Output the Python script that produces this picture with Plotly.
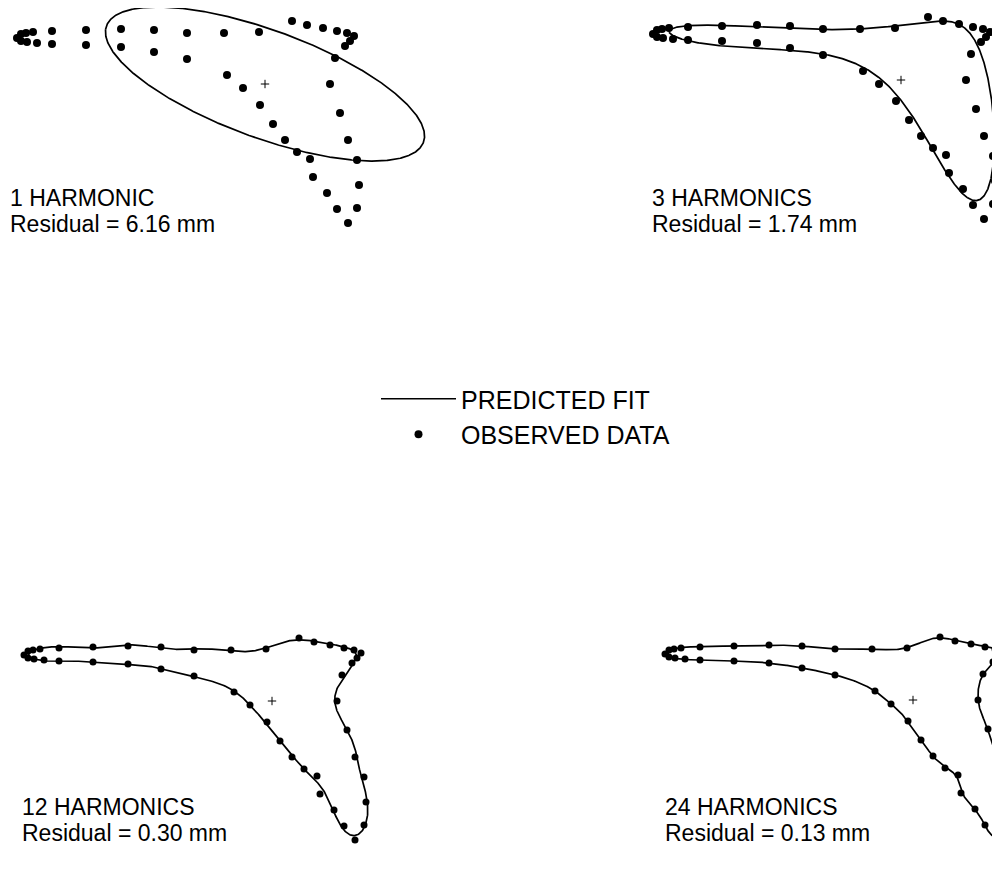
import numpy as np
import plotly.graph_objects as go

# Observed contour points (relative to the shape centroid "+", y up; 1 unit = 1 px at figure scale)
OBS_X = [-248, -244, -239, -232, -213, -179, -144, -111, -78, -41, -6, 27, 42, 58, 72, 82, 89,
         85, 80, 70, 65, 75, 83, 92, 94, 92, 83, 72, 62, 48, 45, 32, 20, 8, -5, -22, -38,
         -78, -111, -144, -179, -213, -228, -238, -244]
OBS_Y = [46, 50, 51, 52, 53, 54, 55, 54, 51, 51, 52, 63, 59, 56, 53, 51, 48,
         43, 38, 26, 0, -29, -56, -76, -101, -124, -139, -125, -109, -93, -75, -68, -56, -40, -21, -4, 9,
         25, 32, 37, 39, 40, 41, 42, 43]
CENTROID_X = [0]
CENTROID_Y = [0]

HARMONICS = [1, 3, 12, 24]
PANEL_TITLES = ["1 HARMONIC", "3 HARMONICS", "12 HARMONICS", "24 HARMONICS"]
RESIDUALS_MM = ["6.16", "1.74", "0.30", "0.13"]

FONT = "Liberation Sans, Arial, Helvetica, sans-serif"
W, H = 1000, 880


def fourier_fit(x, y, n, x0, y0, fix_center, lam, m=1200):
    """Least-squares elliptic Fourier fit with n harmonics (chord-length parameter)."""
    x = np.asarray(x, float) - x0
    y = np.asarray(y, float) - y0
    xc = np.append(x, x[0])
    yc = np.append(y, y[0])
    seg = np.hypot(np.diff(xc), np.diff(yc))
    s = np.concatenate([[0.0], np.cumsum(seg)[:-1]])
    t = 2 * np.pi * s / seg.sum()

    def design(tt):
        cols = [] if fix_center else [np.ones_like(tt)]
        for k in range(1, n + 1):
            cols += [np.cos(k * tt), np.sin(k * tt)]
        return np.column_stack(cols)

    A = design(t)
    pen = ([] if fix_center else [0.0]) + [float(k) ** 4 for k in range(1, n + 1) for _ in range(2)]
    M = A.T @ A + lam * np.diag(pen)
    cx = np.linalg.solve(M, A.T @ x)
    cy = np.linalg.solve(M, A.T @ y)
    tt = np.linspace(0, 2 * np.pi, m)
    B = design(tt)
    fx = B @ cx + x0
    fy = B @ cy + y0
    return np.append(fx, fx[0]), np.append(fy, fy[0])


# panel boxes in pixels (x0, x1, y0, y1) and centroid pixel positions
PANEL_BOX = [(0, 500, 0, 300), (500, 1000, 0, 300), (0, 500, 580, 880), (500, 1000, 580, 880)]
PANEL_CENTER = [(257, 76), (893, 72), (264, 693), (905, 692)]
LABEL_POS = [(1, 190, 216), (643, 190, 216), (13, 799, 825), (656, 799, 825)]
MARKER_SIZE = [8, 8, 7, 7]
FIX_CENTER = [True, False, False, False]
SMOOTH = [0.0, 1e-7, 1e-7, 1.5e-4]

fig = go.Figure()
layout = {}
annotations = []
for i, n in enumerate(HARMONICS):
    ax = "" if i == 0 else str(i + 1)
    xa, ya = "x" + ax, "y" + ax
    fx, fy = fourier_fit(OBS_X, OBS_Y, n, CENTROID_X[0], CENTROID_Y[0], FIX_CENTER[i], SMOOTH[i])
    fig.add_trace(go.Scatter(x=fx, y=fy, mode="lines", line=dict(color="black", width=1.7),
                             name="PREDICTED FIT", showlegend=(i == 0), xaxis=xa, yaxis=ya,
                             hoverinfo="skip"))
    fig.add_trace(go.Scatter(x=OBS_X, y=OBS_Y, mode="markers",
                             marker=dict(color="black", size=MARKER_SIZE[i]),
                             name="OBSERVED DATA", showlegend=(i == 0), xaxis=xa, yaxis=ya,
                             cliponaxis=False))
    fig.add_trace(go.Scatter(x=CENTROID_X, y=CENTROID_Y, mode="markers",
                             marker=dict(color="black", size=6, symbol="cross-thin",
                                         line=dict(color="black", width=1)),
                             showlegend=False, xaxis=xa, yaxis=ya, hoverinfo="skip"))
    x0, x1, y0, y1 = PANEL_BOX[i]
    cxp, cyp = PANEL_CENTER[i]
    axis_common = dict(visible=False, showgrid=False, zeroline=False, fixedrange=True)
    layout["xaxis" + ax] = dict(domain=[x0 / W, x1 / W], range=[x0 - cxp, x1 - cxp],
                                anchor=ya, **axis_common)
    layout["yaxis" + ax] = dict(domain=[1 - y1 / H, 1 - y0 / H], range=[cyp - y1, cyp - y0],
                                anchor=xa, **axis_common)
    lx, ly1, ly2 = LABEL_POS[i]
    annotations.append(dict(text=PANEL_TITLES[i], x=lx / W, y=1 - ly1 / H, xref="paper", yref="paper",
                            xanchor="left", yanchor="middle", showarrow=False, borderpad=0,
                            font=dict(family=FONT, size=23, color="black")))
    annotations.append(dict(text=f"Residual = {RESIDUALS_MM[i]} mm", x=lx / W, y=1 - ly2 / H,
                            xref="paper", yref="paper", xanchor="left", yanchor="middle",
                            showarrow=False, borderpad=0,
                            font=dict(family=FONT, size=23, color="black")))

fig.update_layout(
    width=W, height=H,
    margin=dict(l=0, r=0, t=0, b=0),
    paper_bgcolor="white", plot_bgcolor="white",
    annotations=annotations,
    showlegend=True,
    legend=dict(x=368 / W, y=1 - 368 / H, xanchor="left", yanchor="top",
                itemwidth=75, bgcolor="rgba(0,0,0,0)",
                font=dict(family=FONT, size=25, color="black"), tracegroupgap=0),
    **layout,
)

fig.write_html("out.html")
